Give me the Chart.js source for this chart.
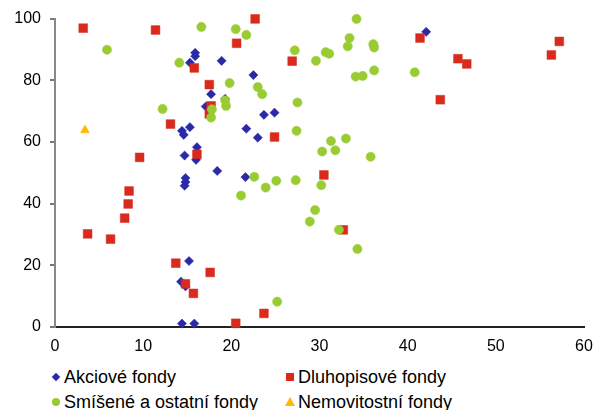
<!DOCTYPE html>
<html>
<head>
<meta charset="utf-8">
<script src="https://cdn.jsdelivr.net/npm/chart.js@4"></script>
<style>
  html, body { margin: 0; padding: 0; background: #fff; }
  #wrap { position: relative; width: 598px; height: 410px; overflow: hidden; font-family: "Liberation Sans", Arial, sans-serif; }
  #chartBox { position: absolute; left: 0; top: 0; width: 598px; height: 360px; }
  .leg { position: absolute; font-size: 18px; line-height: 20px; color: #000; white-space: nowrap; }
  .mk { position: absolute; }
</style>
</head>
<body>
<div id="wrap">
  <div id="chartBox"><canvas id="fundChart" width="598" height="360"></canvas></div>
  <div id="legend"></div>
</div>
<script>
const seriesNames = ['Akciové fondy', 'Dluhopisové fondy', 'Smíšené a ostatní fondy', 'Nemovitostní fondy'];

const akcioveX = [15.9, 15.9, 15.3, 18.9, 22.5, 17.7, 19.3, 17.1, 23.7, 24.9, 15.3, 14.4, 14.6, 21.7, 23.0,
    16.1, 14.7, 16.0, 18.4, 21.6, 14.8, 14.8, 14.7, 15.2, 14.3, 14.8, 14.4, 15.8, 42.1];
const akcioveY = [88.9, 87.8, 85.7, 86.3, 81.7, 75.5, 74.0, 71.5, 68.8, 69.5, 64.8, 63.6, 62.3, 64.3, 61.4,
    58.3, 55.6, 54.2, 50.6, 48.6, 48.3, 47.0, 45.8, 21.4, 14.7, 13.2, 1.1, 1.1, 95.7];

const dluhopisoveX = [3.2, 11.4, 22.7, 20.6, 15.8, 17.5, 17.7, 17.5, 26.9, 41.4, 45.7, 46.7, 43.7, 56.3, 57.2,
    13.1, 16.1, 24.9, 9.6, 8.4, 8.3, 7.9, 3.7, 6.3, 30.5, 32.7, 13.7, 17.6, 14.8, 15.7, 20.5, 23.7];
const dluhopisoveY = [96.9, 96.3, 99.9, 92.0, 84.0, 78.6, 71.7, 69.1, 86.2, 93.7, 87.0, 85.3, 73.7, 88.2, 92.6,
    65.8, 56.0, 61.6, 55.0, 44.1, 39.9, 35.3, 30.2, 28.5, 49.3, 31.5, 20.7, 17.7, 14.0, 10.9, 1.2, 4.4];

const smiseneX = [16.6, 20.5, 5.9, 14.1, 19.8, 12.2, 19.3, 19.4, 17.8, 17.7, 21.7, 34.2, 33.4, 33.2, 36.1,
    36.2, 27.2, 30.7, 31.1, 29.6, 36.2, 34.1, 34.9, 40.8, 23.0, 23.5, 27.5, 27.4, 31.3, 33.0,
    30.3, 31.8, 35.8, 22.6, 21.1, 23.9, 25.1, 27.3, 30.2, 29.5, 28.9, 32.2, 34.3, 25.2];
const smiseneY = [97.3, 96.6, 89.9, 85.7, 79.1, 70.7, 73.5, 71.7, 70.6, 67.9, 94.7, 99.9, 93.7, 91.0, 91.7,
    90.6, 89.7, 89.1, 88.6, 86.3, 83.2, 81.2, 81.4, 82.6, 77.8, 75.5, 72.8, 63.6, 60.3, 61.1,
    56.9, 57.3, 55.2, 48.7, 42.6, 45.2, 47.4, 47.6, 46.0, 37.9, 34.2, 31.5, 25.3, 8.2];

const nemovitostniX = [3.4];
const nemovitostniY = [63.8];

const xTicks = [0, 10, 20, 30, 40, 50, 60];
const yTicks = [0, 20, 40, 60, 80, 100];

function toPoints(xs, ys) {
    return xs.map((x, i) => ({ x: x, y: ys[i] }));
}

const colors = ['#2a2aa8', '#d92a1e', '#99cc33', '#ffb800'];
const shapes = ['rectRot', 'rect', 'circle', 'triangle'];
const radii = [4.6, 6.2, 4.6, 5.2];

const datasets = [
    toPoints(akcioveX, akcioveY),
    toPoints(dluhopisoveX, dluhopisoveY),
    toPoints(smiseneX, smiseneY),
    toPoints(nemovitostniX, nemovitostniY)
].map((pts, i) => ({
    label: seriesNames[i],
    data: pts,
    pointStyle: shapes[i],
    pointRadius: radii[i],
    pointHoverRadius: radii[i],
    backgroundColor: colors[i],
    borderColor: colors[i],
    borderWidth: 0.5,
    order: 3 - i,
    clip: false
}));

const ctx = document.getElementById('fundChart').getContext('2d');
const fundChart = new Chart(ctx, {
    type: 'scatter',
    data: { datasets: datasets },
    options: {
        responsive: false,
        animation: false,
        layout: { padding: { top: 18, right: 14, left: 0, bottom: 0 } },
        plugins: { legend: { display: false }, tooltip: { enabled: false } },
        scales: {
            x: {
                min: 0, max: 60,
                afterBuildTicks: axis => { axis.ticks = xTicks.map(v => ({ value: v })); },
                afterFit: axis => {
                    axis.height = 33;
                    axis.paddingLeft = 0;
                    axis.paddingRight = 0;
                },
                grid: { display: true, drawOnChartArea: false, drawTicks: false },
                border: { display: true, color: '#222', width: 2 },
                ticks: { color: '#000', padding: 10, maxRotation: 0, font: { family: 'Liberation Sans', size: 16 } }
            },
            y: {
                min: 0, max: 100,
                afterBuildTicks: axis => { axis.ticks = yTicks.map(v => ({ value: v })); },
                afterFit: axis => { axis.width = 55; },
                grid: { display: true, drawOnChartArea: false, drawTicks: true, tickLength: 5, color: '#777', lineWidth: 2 },
                border: { display: true, color: '#888', width: 2 },
                ticks: { color: '#000', padding: 9, font: { family: 'Liberation Sans', size: 16 } }
            }
        }
    }
});

// legend in two columns, built from the datasets
const legendPos = [[56, 377], [290, 377], [56, 402], [290, 402]];
const legendEl = document.getElementById('legend');
fundChart.data.datasets.forEach((ds, i) => {
    const [cx, cy] = legendPos[i];
    const mk = document.createElement('div');
    mk.className = 'mk';
    const c = colors[i];
    if (shapes[i] === 'rectRot') {
        mk.style.cssText = `left:${cx - 3}px;top:${cy - 3}px;width:6px;height:6px;background:${c};transform:rotate(45deg);`;
    } else if (shapes[i] === 'rect') {
        mk.style.cssText = `left:${cx - 4}px;top:${cy - 4}px;width:8px;height:8px;background:${c};`;
    } else if (shapes[i] === 'circle') {
        mk.style.cssText = `left:${cx - 4}px;top:${cy - 4}px;width:8px;height:8px;border-radius:50%;background:${c};`;
    } else {
        mk.style.cssText = `left:${cx - 5}px;top:${cy - 5}px;width:0;height:0;border-left:5px solid transparent;border-right:5px solid transparent;border-bottom:9px solid ${c};`;
    }
    legendEl.appendChild(mk);
    const t = document.createElement('div');
    t.className = 'leg';
    t.textContent = ds.label;
    t.style.left = (cx + 8) + 'px';
    t.style.top = (cy - 10) + 'px';
    legendEl.appendChild(t);
});
</script>
</body>
</html>
